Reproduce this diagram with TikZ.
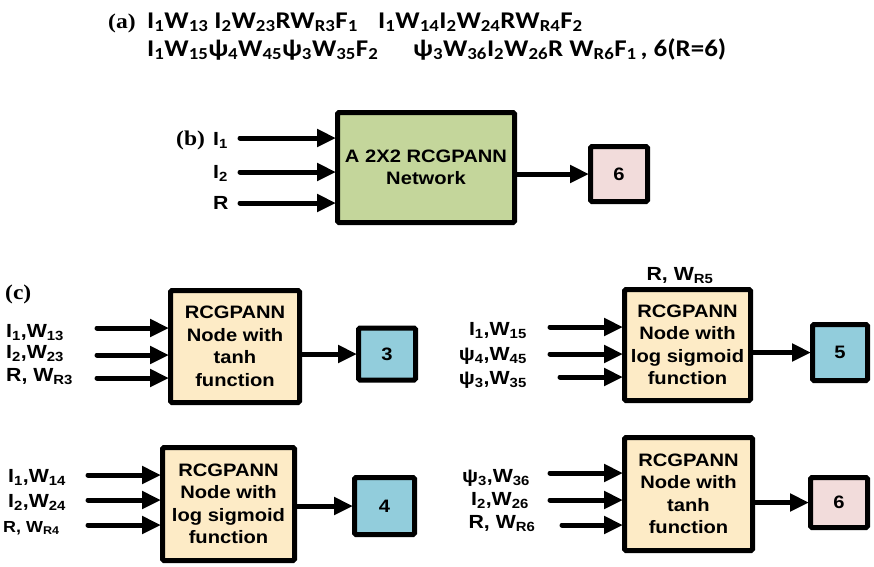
\documentclass[tikz,border=0pt]{standalone}
\usepackage{fontspec}
\setmainfont{Liberation Serif}[FakeStretch=1.12]
\newfontfamily\formfont{Carlito}[FakeStretch=1.12]
\newfontfamily\boxfont{Liberation Sans}[FakeStretch=1.12]
\usetikzlibrary{arrows.meta}
\newcommand\lo[1]{\textsubscript{#1}}
\definecolor{netgreen}{RGB}{196,214,155}
\definecolor{nodecream}{RGB}{253,235,198}
\definecolor{outblue}{RGB}{146,205,220}
\definecolor{outpink}{RGB}{242,220,219}
\tikzset{
  tag/.style={inner sep=0pt, font=\bfseries\fontsize{21}{21}\selectfont},
  form/.style={inner sep=0pt, font=\formfont\bfseries\fontsize{24}{24}\selectfont},
  lab/.style={inner sep=0pt, font=\boxfont\bfseries\fontsize{19}{19}\selectfont},
  smalllab/.style={inner sep=0pt, font=\boxfont\bfseries\fontsize{16}{16}\selectfont},
  blk/.style={draw, line width=5pt, rounded corners=1.5pt, inner sep=0pt, align=center,
    font=\boxfont\bfseries\fontsize{18}{22.5}\selectfont},
  feed/.style={line width=5pt, line cap=round, shorten >=-1pt,
    -{Triangle[length=19pt,width=17pt]}}
}
\begin{document}
\begin{tikzpicture}[x=1pt,y=-1pt]
\useasboundingbox (0,0) rectangle (874,566);

% ---- (a) path expressions ----
\node[tag, anchor=base west] (ta) at (108,28) {(a)};
\node[form, anchor=base west] (a1) at (147,28) {I\lo1W\lo{13} I\lo2W\lo{23}RW\lo{R3}F\lo1};
\node[form, anchor=base west] (a2) at (378,28) {I\lo1W\lo{14}I\lo2W\lo{24}RW\lo{R4}F\lo2};
\node[form, anchor=base west] (a3) at (147,56) {I\lo1W\lo{15}ψ\lo4W\lo{45}ψ\lo3W\lo{35}F\lo2};
\node[form, anchor=base west] (a4) at (413,56) {ψ\lo3W\lo{36}I\lo2W\lo{26}R W\lo{R6}F\lo1\,, 6(R=6)};

% ---- (b) the whole network ----
\node[tag, anchor=base west] (tb) at (176,145) {(b)};
\node[blk, fill=netgreen, minimum width=177pt, minimum height=110pt] (net) at (426,167.5)
  {A 2X2 RCGPANN\\Network};
\node[blk, fill=outpink, minimum width=57pt, minimum height=55pt] (nb6) at (619,174) {6};
\coordinate (bi1) at (240,138);
\coordinate (bi2) at (240,172);
\coordinate (bi3) at (240,203);
\node[lab, anchor=base west] (lb1) at (213,145) {I\lo1};
\node[lab, anchor=base west] (lb2) at (213,178) {I\lo2};
\node[lab, anchor=base west] (lb3) at (213,209) {R};
\draw[feed] (bi1) -- (bi1 -| net.west);
\draw[feed] (bi2) -- (bi2 -| net.west);
\draw[feed] (bi3) -- (bi3 -| net.west);
\draw[feed] (net.east |- nb6) -- (nb6.west);

% ---- (c) the single nodes ----
\node[tag, anchor=base west] (tc) at (5,299) {(c)};

% node 3
\node[blk, fill=nodecream, minimum width=129pt, minimum height=112pt] (nA) at (235,346.5)
  {RCGPANN\\Node with\\tanh\\function};
\node[blk, fill=outblue, minimum width=57pt, minimum height=52pt] (n3) at (387,354) {3};
\coordinate (ai1) at (97,328);
\coordinate (ai2) at (97,355);
\coordinate (ai3) at (97,378);
\node[lab, anchor=base west] (la1) at (6,337) {I\lo1,W\lo{13}};
\node[lab, anchor=base west] (la2) at (6,358) {I\lo2,W\lo{23}};
\node[lab, anchor=base west] (la3) at (6,381) {R, W\lo{R3}};
\draw[feed] (ai1) -- (ai1 -| nA.west);
\draw[feed] (ai2) -- (ai2 -| nA.west);
\draw[feed] (ai3) -- (ai3 -| nA.west);
\draw[feed] (nA.east |- n3) -- (n3.west);

% node 5
\node[blk, fill=nodecream, minimum width=126pt, minimum height=111pt] (nB) at (687.5,345)
  {RCGPANN\\Node with\\log sigmoid\\function};
\node[lab, anchor=base] (rB) at (680,280) {R, W\lo{R5}};
\node[blk, fill=outblue, minimum width=55pt, minimum height=56pt] (n5) at (840,352.5) {5};
\coordinate (bi4) at (550,327);
\coordinate (bi5) at (550,354);
\coordinate (bi6) at (560,377);
\node[lab, anchor=base east] (lc1) at (527,335) {I\lo1,W\lo{15}};
\node[lab, anchor=base east] (lc2) at (527,360) {ψ\lo4,W\lo{45}};
\node[lab, anchor=base east] (lc3) at (527,384) {ψ\lo3,W\lo{35}};
\draw[feed] (bi4) -- (bi4 -| nB.west);
\draw[feed] (bi5) -- (bi5 -| nB.west);
\draw[feed] (bi6) -- (bi6 -| nB.west);
\draw[feed] (nB.east |- n5) -- (n5.west);

% node 4
\node[blk, fill=nodecream, minimum width=132pt, minimum height=113pt] (nC) at (228.5,504)
  {RCGPANN\\Node with\\log sigmoid\\function};
\node[blk, fill=outblue, minimum width=60pt, minimum height=57pt] (n4) at (384.5,506) {4};
\coordinate (ci1) at (88,475);
\coordinate (ci2) at (88,500);
\coordinate (ci3) at (88,525);
\node[lab, anchor=base west] (ld1) at (8,482) {I\lo1,W\lo{14}};
\node[lab, anchor=base west] (ld2) at (8,507) {I\lo2,W\lo{24}};
\node[smalllab, anchor=base west] (ld3) at (3,532) {R, W\lo{R4}};
\draw[feed] (ci1) -- (ci1 -| nC.west);
\draw[feed] (ci2) -- (ci2 -| nC.west);
\draw[feed] (ci3) -- (ci3 -| nC.west);
\draw[feed] (nC.east |- n4) -- (n4.west);

% node 6
\node[blk, fill=nodecream, minimum width=128pt, minimum height=113pt] (nD) at (688.5,494)
  {RCGPANN\\Node with\\tanh\\function};
\node[blk, fill=outpink, minimum width=57pt, minimum height=50pt] (n6) at (839,502.5) {6};
\coordinate (di1) at (550,473);
\coordinate (di2) at (550,500);
\coordinate (di3) at (562,525);
\node[lab, anchor=base] (le1) at (496,482) {ψ\lo3,W\lo{36}};
\node[lab, anchor=base] (le2) at (500,505) {I\lo2,W\lo{26}};
\node[lab, anchor=base] (le3) at (502,528) {R, W\lo{R6}};
\draw[feed] (di1) -- (di1 -| nD.west);
\draw[feed] (di2) -- (di2 -| nD.west);
\draw[feed] (di3) -- (di3 -| nD.west);
\draw[feed] (nD.east |- n6) -- (n6.west);
\end{tikzpicture}
\end{document}
